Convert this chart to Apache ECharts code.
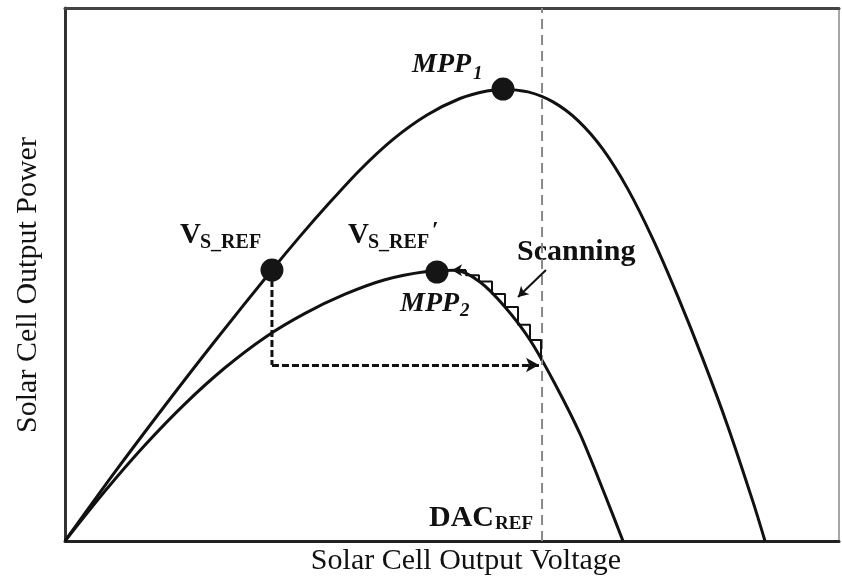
<!DOCTYPE html>
<html>
<head>
<meta charset="utf-8">
<script src="https://cdn.jsdelivr.net/npm/echarts@6/dist/echarts.min.js"></script>
<style>
html,body{margin:0;padding:0;background:#fff;}
#chart{width:842px;height:583px;}
</style>
</head>
<body>
<div id="chart"></div>
<script>
// Curve 1 (full irradiance) – voltage (%) vs power (%)
const voltage1 = [0, 6.46, 12.92, 19.38, 26.74, 30.36, 33.85, 38.11, 42.38, 46.77, 51.03, 54.52, 56.59, 59.82, 63.05, 66.28, 69.51, 72.74, 75.97, 79.20, 82.43, 85.66, 88.89, 90.44];
const power1   = [0, 12.95, 25.42, 37.52, 50.84, 57.15, 62.93, 69.61, 75.35, 79.92, 83.02, 84.43, 84.73, 84.26, 82.38, 78.87, 73.47, 65.97, 56.59, 45.80, 34.07, 21.41, 7.34, 0];
// Curve 2 (reduced irradiance)
const voltage2 = [0, 5.17, 10.34, 15.50, 20.67, 25.84, 31.01, 36.18, 41.34, 46.51, 50.39, 53.62, 56.85, 60.08, 63.31, 66.54, 69.77, 72.09];
const power2   = [0, 9.38, 18.01, 25.74, 32.50, 38.20, 42.70, 46.30, 49.01, 50.51, 50.79, 48.59, 43.90, 37.71, 29.46, 20.08, 8.63, 0];
// Operating points
const pointNames   = ['VS_REF', 'MPP1', 'MPP2'];
const pointVoltage = [26.74, 56.59, 48.06];
const pointPower   = [50.84, 84.80, 50.47];
// DAC reference voltage
const dacRefVoltage = 61.63;
// Tracking path: VS_REF -> drop -> DAC_REF
const trackVoltage = [26.74, 26.74, 61.24];
const trackPower   = [50.84, 33.02, 33.02];
// Scanning staircase (from DAC_REF up to MPP2)
const stairVoltage = [61.50, 61.50, 60.08, 60.08, 58.53, 58.53, 56.85, 56.85, 55.17, 55.17, 53.49, 53.49, 51.81, 51.81];
const stairPower   = [33.88, 37.71, 37.71, 40.58, 40.58, 43.90, 43.90, 46.34, 46.34, 48.67, 48.67, 49.85, 49.85, 50.81];
const stairEndVoltage = 50.0;
// "Scanning" pointer arrow
const scanArrowVoltage = [62.14, 58.53];
const scanArrowPower   = [50.84, 45.78];

const pairs = (xs, ys) => xs.map((x, i) => [x, ys[i]]);
const INK = '#111';
const serif = '"Liberation Serif","Times New Roman",serif';

const chart = echarts.init(document.getElementById('chart'), null, {renderer: 'canvas'});

const noMarkLabel = {show: false};
function txt(text, x, y, font, align) {
  return {type: 'text', silent: true, style: {text: text, x: x, y: y, font: font, fill: INK,
    align: align || 'left', verticalAlign: 'middle', textAlign: align || 'left', textVerticalAlign: 'middle'}};
}

const option = {
  animation: false,
  backgroundColor: '#fff',
  grid: {left: 65, right: 3, top: 8, bottom: 42},
  xAxis: [
    {type: 'value', min: 0, max: 100, position: 'bottom',
     axisLine: {show: true, onZero: false, lineStyle: {color: '#222', width: 3}},
     axisTick: {show: false}, axisLabel: {show: false}, splitLine: {show: false}},
    {type: 'value', min: 0, max: 100, position: 'top',
     axisLine: {show: true, onZero: false, lineStyle: {color: '#444', width: 3}},
     axisTick: {show: false}, axisLabel: {show: false}, splitLine: {show: false}}
  ],
  yAxis: [
    {type: 'value', min: 0, max: 100, position: 'left',
     axisLine: {show: true, onZero: false, lineStyle: {color: '#333', width: 3}},
     axisTick: {show: false}, axisLabel: {show: false}, splitLine: {show: false}},
    {type: 'value', min: 0, max: 100, position: 'right',
     axisLine: {show: true, onZero: false, lineStyle: {color: '#888', width: 1.5}},
     axisTick: {show: false}, axisLabel: {show: false}, splitLine: {show: false}}
  ],
  series: [
    {type: 'line', name: 'P1', data: pairs(voltage1, power1), smooth: 0.3, symbol: 'none',
     lineStyle: {color: INK, width: 3}, silent: true},
    {type: 'line', name: 'P2', data: pairs(voltage2, power2), smooth: 0.3, symbol: 'none',
     lineStyle: {color: INK, width: 3}, silent: true},
    {type: 'line', name: 'DACREF', data: [[dacRefVoltage, 0], [dacRefVoltage, 100]], symbol: 'none',
     lineStyle: {color: '#8a8a8a', width: 2, type: [10, 6]}, silent: true},
    {type: 'line', name: 'track', data: pairs(trackVoltage.slice(0, 2), trackPower.slice(0, 2)), symbol: 'none',
     lineStyle: {color: INK, width: 3, type: [7, 3]}, silent: true,
     markLine: {silent: true, symbol: ['none', 'arrow'], symbolSize: [11, 13], label: noMarkLabel,
       lineStyle: {color: INK, width: 3, type: [7, 3]},
       data: [[{coord: [trackVoltage[1], trackPower[1]]}, {coord: [trackVoltage[2], trackPower[2]]}]]}},
    {type: 'line', name: 'stair', data: pairs(stairVoltage, stairPower), symbol: 'none',
     lineStyle: {color: INK, width: 2}, silent: true,
     markLine: {silent: true, symbol: ['none', 'arrow'], symbolSize: [9, 10], label: noMarkLabel,
       lineStyle: {color: INK, width: 2, type: 'solid'},
       data: [
         [{coord: [stairVoltage[stairVoltage.length - 1], stairPower[stairPower.length - 1]]},
          {coord: [stairEndVoltage, stairPower[stairPower.length - 1]]}],
         [{coord: [scanArrowVoltage[0], scanArrowPower[0]]}, {coord: [scanArrowVoltage[1], scanArrowPower[1]]}]
       ]}},
    {type: 'scatter', name: 'points', data: pairs(pointVoltage, pointPower), symbolSize: 23,
     itemStyle: {color: '#151515', opacity: 1}, silent: true, z: 5}
  ],
  graphic: [
    txt('MPP', 412, 65, 'italic bold 28px ' + serif),
    txt('1', 473, 74, 'italic bold 19px ' + serif),
    txt('V', 180, 236, 'bold 29px ' + serif),
    txt('S_REF', 200, 243, 'bold 20px ' + serif),
    txt('V', 348, 236, 'bold 29px ' + serif),
    txt('S_REF', 368, 243, 'bold 20px ' + serif),
    txt('\u2032', 432, 231, 'bold 24px ' + serif),
    txt('MPP', 400, 304, 'italic bold 28px ' + serif),
    txt('2', 460, 311, 'italic bold 19px ' + serif),
    txt('Scanning', 517, 252, 'bold 30px ' + serif),
    txt('DAC', 429, 518, 'bold 30px ' + serif),
    txt('REF', 495, 524, 'bold 19px ' + serif),
    txt('Solar Cell Output Voltage', 466, 561, '30px ' + serif, 'center'),
    {type: 'text', silent: true, x: 28, y: 285, rotation: Math.PI / 2,
     style: {text: 'Solar Cell Output Power', x: 0, y: 0, font: '30px ' + serif, fill: INK,
       align: 'center', verticalAlign: 'middle', textAlign: 'center', textVerticalAlign: 'middle'}}
  ]
};
chart.setOption(option);
</script>
</body>
</html>
